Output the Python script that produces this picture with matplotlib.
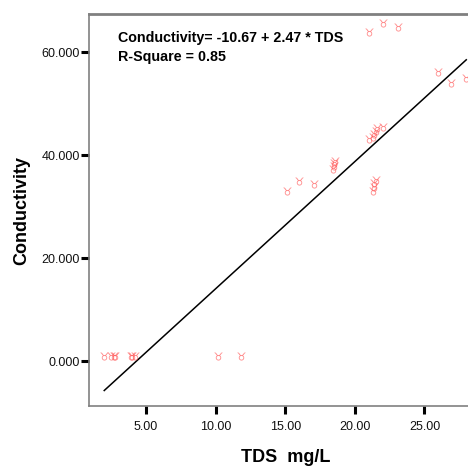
import matplotlib
matplotlib.use("Agg")
import matplotlib.pyplot as plt
import numpy as np

plt.rcParams['font.family'] = ['Liberation Sans', 'DejaVu Sans']

# TDS (mg/L) and conductivity
tds = [2.0, 2.5, 2.7, 2.8, 3.9, 4.0, 4.2, 10.2, 11.8,
       15.1, 16.0, 17.1,
       18.4, 18.5, 18.5, 18.6,
       21.0, 21.3, 21.4, 21.5, 21.6, 22.0,
       21.3, 21.4, 21.4, 21.5,
       21.0, 22.0, 23.1, 26.0, 26.9, 28.0]
cond = [1.0, 1.0, 0.9, 1.0, 1.0, 0.9, 1.0, 1.0, 0.9,
        33.0, 35.0, 34.3,
        37.2, 37.9, 38.4, 38.9,
        43.2, 43.5, 44.0, 44.6, 45.2, 45.4,
        33.0, 33.8, 34.5, 35.1,
        63.9, 65.7, 64.8, 56.2, 53.9, 54.9]

intercept = -10.67
slope = 2.47
xticks = [5, 10, 15, 20, 25]
yticks = [0, 20, 40, 60]

fig = plt.figure(figsize=(4.68, 4.67), dpi=100)
ax = fig.add_axes([0.190, 0.1306, 0.842, 0.8394])

ax.scatter(tds, cond, marker='$\u2649$', s=34, color='#ff5555', alpha=0.7,
           linewidths=0, zorder=3)

xf = np.array([min(tds), max(tds)])
ax.plot(xf, intercept + slope * xf, color='black', lw=1.1, zorder=2)

ax.set_xlim(0.9, 29.2)
ax.set_ylim(-8.74, 67.38)
ax.set_xticks(xticks)
ax.set_yticks(yticks)
ax.set_xticklabels(['%.2f' % v for v in xticks])
ax.set_yticklabels(['%.3f' % v for v in yticks])
ax.tick_params(axis='both', direction='out', length=6, width=2.2,
               color='black', labelsize=9, labelcolor='#111111')
ax.tick_params(axis='x', pad=5)
ax.tick_params(axis='y', pad=0.5)

for s in ['left', 'bottom']:
    ax.spines[s].set_color('#808080')
    ax.spines[s].set_linewidth(1.2)
ax.spines['top'].set_color('#808080')
ax.spines['top'].set_linewidth(2.0)
ax.spines['right'].set_visible(False)

ax.set_xlabel('TDS  mg/L', fontsize=13, fontweight='bold', labelpad=11)
ax.set_ylabel('Conductivity', fontsize=13, fontweight='bold', labelpad=8)

fig.text(118 / 468, 1 - 38 / 467, 'Conductivity= -10.67 + 2.47 * TDS',
         fontsize=10.3, fontweight='bold', va='center', ha='left')
fig.text(118 / 468, 1 - 57 / 467, 'R-Square = 0.85',
         fontsize=10.3, fontweight='bold', va='center', ha='left')

fig.savefig('out.png', dpi=100)
